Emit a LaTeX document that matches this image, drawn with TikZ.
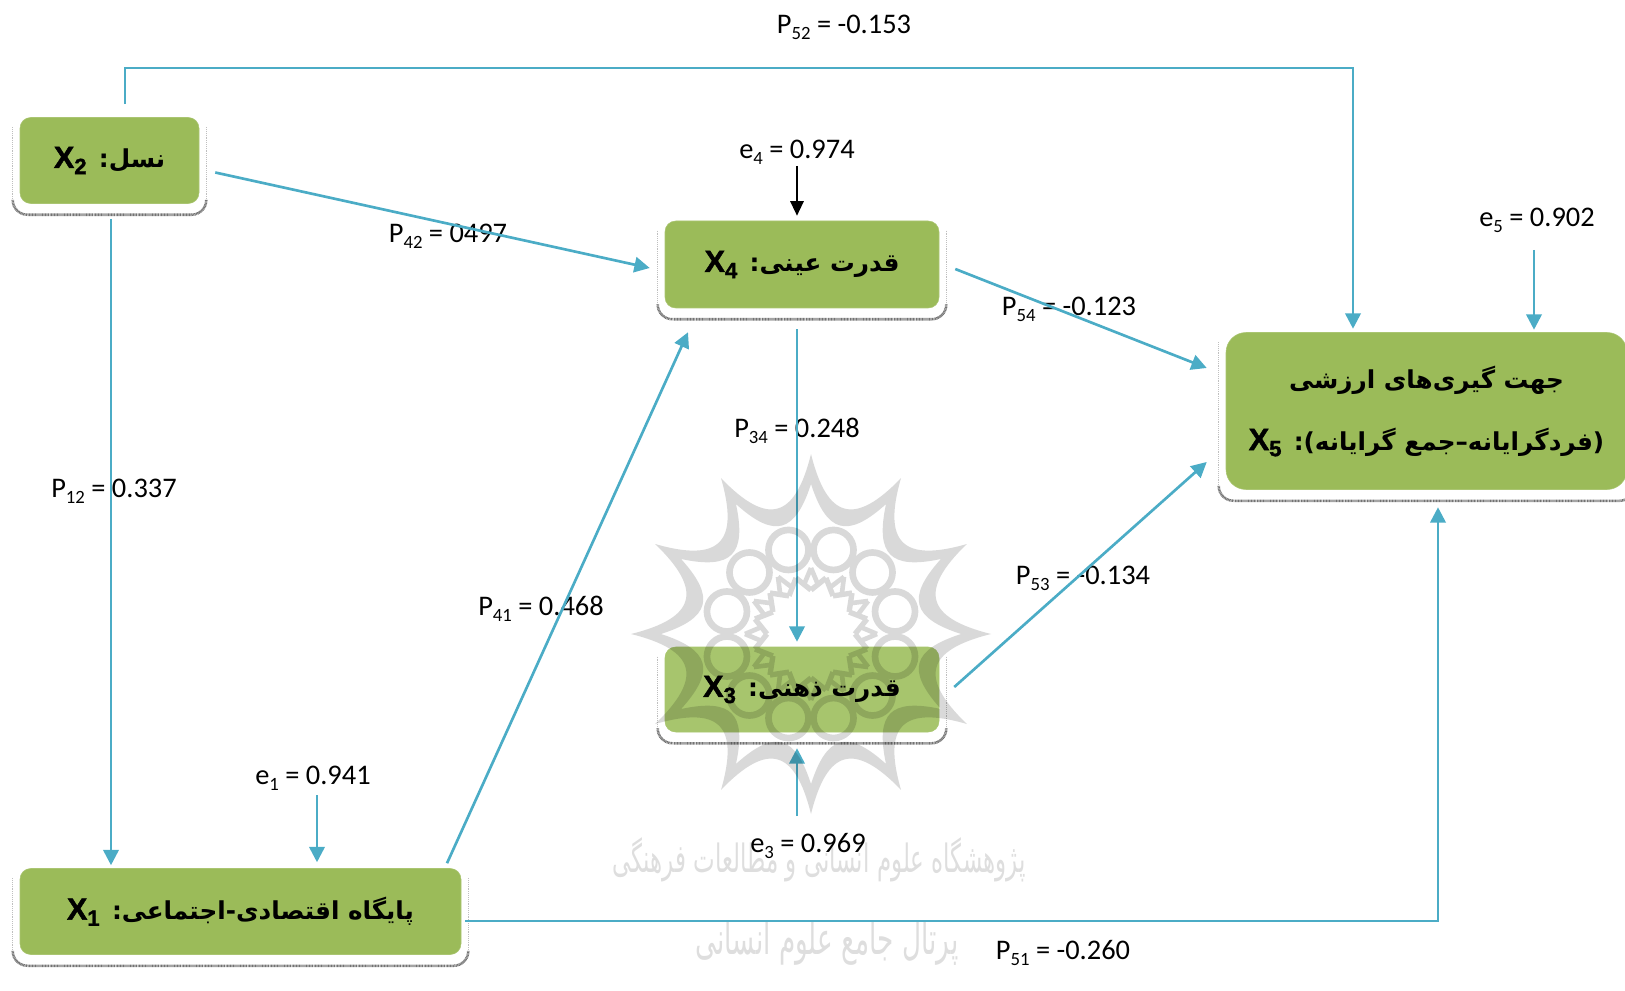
\documentclass[tikz,border=0pt]{standalone}
\usepackage{fontspec}
\usepackage{graphicx}
\usetikzlibrary{calc,arrows.meta}
\TeXXeTstate=1
\setmainfont{Carlito}
\newfontfamily\arfont[Script=Arabic]{DejaVu Sans}
\newfontface\xfont[FakeBold=1.5]{Liberation Sans Bold}
\definecolor{linkblue}{HTML}{4BACC6}
\definecolor{boxgreen}{HTML}{9BBB59}
\definecolor{paleboxgreen}{HTML}{A7C56D}
\newcommand\sbs[1]{\raisebox{-.22em}{\scalebox{.66}{#1}}}
\newcommand\xsbs[1]{\raisebox{-.2em}{\scalebox{.72}{#1}}}
\newcommand\vtxt[2]{\beginR{\arfont\bfseries #1}\hspace{.5em}\beginL{\xfont\fontsize{23}{28}\selectfont X\xsbs{#2}}\endL\endR}
\newcommand\plinth[1]{%
  \draw[rimside] ($(#1.north west)+(-7,10)$) -- ($(#1.south west)+(-7,-4)$);
  \draw[rimside] ($(#1.north east)+(7,10)$) -- ($(#1.south east)+(7,-4)$);
  \draw[rimbase] ($(#1.south west)+(-7,-4)$) -- ($(#1.south west)+(-7,11)$) -- ($(#1.south east)+(7,11)$) -- ($(#1.south east)+(7,-4)$);
}
\tikzset{
  x=.75pt,y=-.75pt,
  vbox/.style={rectangle,rounded corners=8pt,fill=boxgreen,draw=boxgreen!85!white,line width=.4pt,inner sep=0pt,align=center,font=\fontsize{18.5}{24}\selectfont},
  val/.style={inner sep=0pt,font=\fontsize{21.3}{25}\selectfont},
  link/.style={draw=linkblue,line width=2pt,-{Triangle[width=11.5pt,length=11.5pt]}},
  elink/.style={draw=black,line width=1.6pt,-{Triangle[width=10pt,length=11pt]}},
  rimside/.style={draw=black!25,line width=.4pt,densely dotted},
  rimbase/.style={draw=black!55,line width=1.9pt,dash pattern=on .7pt off .4pt,rounded corners=11pt},
}
\begin{document}
\begin{tikzpicture}
\useasboundingbox (0,0) rectangle (1625,991);
\clip (0,0) rectangle (1625,991);
\node[vbox,minimum width=134.25pt,minimum height=64.5pt] (x2) at (109.5,160.5) {\vtxt{نسل:}{2}};
\node[vbox,minimum width=205.5pt,minimum height=65.25pt] (x4) at (802,264.5) {\vtxt{قدرت عینی:}{4}};
\node[vbox,fill=paleboxgreen,draw=paleboxgreen,minimum width=205.5pt,minimum height=63.75pt] (x3) at (802,689.5) {\vtxt{قدرت ذهنی:}{3}};
\node[vbox,minimum width=330.75pt,minimum height=64.5pt] (x1) at (240.5,911.5) {\vtxt{پایگاه اقتصادی-اجتماعی:}{1}};
\node[vbox,rounded corners=15pt,minimum width=300.75pt,minimum height=117.75pt,font=\fontsize{18.5}{46.5}\selectfont] (x5) at (1426.5,411)
  {\beginR{\arfont\bfseries جهت گیری‌های ارزشی}\endR\\ \vtxt{(فردگرایانه–جمع گرایانه):}{5}};
\plinth{x2}\plinth{x4}\plinth{x3}\plinth{x1}\plinth{x5}
% watermark lettering
\node[inner sep=0pt,text=black!13] (wm1) at (819,860) {\scalebox{1}[1.7]{\fontsize{17.2}{20}\selectfont\beginR\arfont پژوهشگاه علوم انسانی و مطالعات فرهنگی\endR}};
\node[inner sep=0pt,text=black!13] (wm2) at (827,943) {\scalebox{1}[1.7]{\fontsize{19.7}{24}\selectfont\beginR\arfont پرتال جامع علوم انسانی\endR}};
% values
\node[val] (p52) at (844,27) {P\sbs{52} = -0.153};
\node[val] (e4) at (797,152) {e\sbs{4} = 0.974};
\node[val] (e5) at (1537,220) {e\sbs{5} = 0.902};
\node[val] (p42) at (448,236) {P\sbs{42} = 0497};
\node[val] (p54) at (1069,309) {P\sbs{54} = -0.123};
\node[val] (p34) at (797,431) {P\sbs{34} = 0.248};
\node[val] (p12) at (114,491) {P\sbs{12} = 0.337};
\node[val] (p41) at (541,609) {P\sbs{41} = 0.468};
\node[val] (p53) at (1083,578) {P\sbs{53} = -0.134};
\node[val] (e1) at (313,778) {e\sbs{1} = 0.941};
\node[val] (e3) at (808,846) {e\sbs{3} = 0.969};
\node[val] (p51) at (1063,953) {P\sbs{51} = -0.260};
% connectors
\coordinate (k52) at (125,68);
\coordinate (k51) at (1438,921);
\draw[link] ($(x2.north)+(15.5,-13)$) -- (k52) -| ($(x5.north)+(-73.5,-3.5)$);
\draw[link] ($(x2.east)+(16,12)$) -- ($(x4.west)+(-15,3.5)$);
\draw[link] ($(x2.south)+(1.5,15)$) -- ($(x1.north)+(-129.5,-3)$);
\draw[elink] ($(e4)+(0,14)$) -- ($(x4.north)+(-5,-5)$);
\draw[link] ($(e5)+(-3,30)$) -- ($(x5.north)+(107.5,-2.5)$);
\draw[link] ($(e1)+(4,17)$) -- ($(x1.north)+(76.5,-6)$);
\draw[link] ($(e3)+(-11,-30)$) -- ($(x3.south)+(-5,16)$);
\draw[link] ($(x4.south)+(-5,21)$) -- ($(x3.north)+(-5,-5)$);
\draw[link] ($(x4.east)+(16,4.5)$) -- ($(x5.west)+(-19,-43)$);
\draw[link] ($(x3.east)+(15,-2.5)$) -- ($(x5.west)+(-19,51)$);
\draw[link] ($(x1.north)+(206.5,-5)$) -- ($(x4.south)+(-114,24)$);
\draw[link] ($(x1.east)+(4,9.5)$) -- (k51) -- ($(x5.south)+(11.5,17.5)$);
% watermark rosette
\begin{scope}[shift={(811,634)},transparency group,opacity=.15]
  \fill[black,even odd rule]
    (90:180)
    \foreach \a in {90,120,...,420}{ .. controls (\a+8:116) and (\a+22:116) .. (\a+30:180) } -- cycle
    (90:150)
    \foreach \a in {90,120,...,420}{ .. controls (\a+9:102) and (\a+21:102) .. (\a+30:150) } -- cycle;
  \foreach \a in {0,30,...,330}{
    \draw[black,line width=5pt] (\a+15:87) circle (20);
    \draw[black,line width=4pt] (\a:44) -- (\a+15:58);
    \draw[black,line width=4pt] (\a+15:58) -- (\a+30:44);
    \draw[black,line width=3.5pt] (\a:66) -- (\a+8:50);
    \draw[black,line width=3.5pt] (\a:66) -- (\a-8:50);
  }
\end{scope}
\end{tikzpicture}
\end{document}
